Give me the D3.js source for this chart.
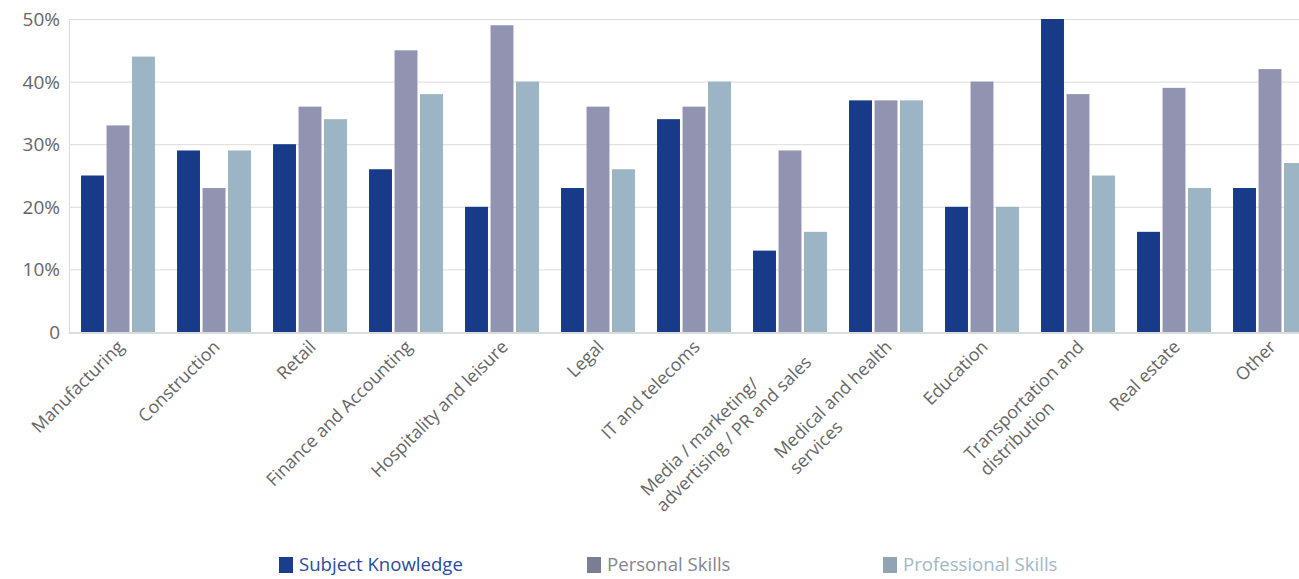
<!DOCTYPE html>
<html><head><meta charset="utf-8">
<script src="https://cdn.jsdelivr.net/npm/d3@7"></script>
<style>
html,body{margin:0;padding:0;background:#fff;overflow:hidden;}
svg{display:block;font-family:"Open Sans","Noto Sans",sans-serif;}
</style></head><body>
<svg id="chart" width="1299" height="579"></svg>
<script>
const categories = [
  ["Manufacturing"],
  ["Construction"],
  ["Retail"],
  ["Finance and Accounting"],
  ["Hospitality and leisure"],
  ["Legal"],
  ["IT and telecoms"],
  ["Media / marketing/", "advertising / PR and sales"],
  ["Medical and health", "services"],
  ["Education"],
  ["Transportation and", "distribution"],
  ["Real estate"],
  ["Other"]
];
const seriesNames = ["Subject Knowledge", "Personal Skills", "Professional Skills"];
const subjectKnowledge  = [25, 29, 30, 26, 20, 23, 34, 13, 37, 20, 50, 16, 23];
const personalSkills    = [33, 23, 36, 45, 49, 36, 36, 29, 37, 40, 38, 39, 42];
const professionalSkills= [44, 29, 34, 38, 40, 26, 40, 16, 37, 20, 25, 23, 27];
const yTicks = [0, 10, 20, 30, 40, 50];
const yTickLabels = ["0", "10%", "20%", "30%", "40%", "50%"];

const barColors = ["#173b88", "#9094b0", "#9bb5c4"];
const swatchColors = ["#1a3d8c", "#7b7d92", "#8fa5b1"];
const legendText = ["#2b4b9b", "#85858f", "#a3b7c3"];

const series = [subjectKnowledge, personalSkills, professionalSkills];
const svg = d3.select("#chart");

const mLeft = 69, mTop = 19, mBottom = 332;
const step = 96;
const x = d3.scaleBand().domain(d3.range(categories.length))
  .range([mLeft + 1, mLeft + 1 + step * categories.length]).paddingInner(0.23).paddingOuter(0.115);
const xs = d3.scaleBand().domain(d3.range(3)).range([0, x.bandwidth()]).paddingInner(0.1);
const y = d3.scaleLinear().domain([0, 50]).range([mBottom, mTop]);

// gridlines
svg.append("g").selectAll("line").data(yTicks.slice(1)).join("line")
  .attr("x1", mLeft).attr("x2", 1299)
  .attr("y1", d => y(d) + 0.5).attr("y2", d => y(d) + 0.5)
  .attr("stroke", "#dcdcdc").attr("stroke-width", 1);

// y tick labels
svg.append("g").selectAll("text").data(yTicks).join("text")
  .attr("x", 60).attr("y", d => y(d) + 7)
  .attr("text-anchor", "end").attr("font-size", 19).attr("fill", "#666")
  .text((d, i) => yTickLabels[i]);

// bars
const groups = svg.append("g").selectAll("g").data(categories).join("g")
  .attr("transform", (d, i) => `translate(${x(i)},0)`);
groups.selectAll("rect").data((d, i) => series.map((s, k) => ({k, v: s[i]}))).join("rect")
  .attr("x", d => xs(d.k)).attr("width", xs.bandwidth())
  .attr("y", d => y(d.v)).attr("height", d => y(0) - y(d.v))
  .attr("fill", d => barColors[d.k]);

// axis lines
svg.append("line").attr("x1", mLeft + 0.5).attr("x2", mLeft + 0.5).attr("y1", mTop).attr("y2", mBottom + 1)
  .attr("stroke", "#dcdcdc");
svg.append("line").attr("x1", mLeft).attr("x2", 1299).attr("y1", mBottom + 1).attr("y2", mBottom + 1)
  .attr("stroke", "#dcdcdc").attr("stroke-width", 2);

// category labels
const lab = svg.append("g").selectAll("g").data(categories).join("g")
  .attr("transform", (d, i) => `translate(${x(i) + x.bandwidth() / 2 + 7},${mBottom + 16}) rotate(-45)`);
lab.each(function(lines) {
  const g = d3.select(this);
  const t = g.append("text").attr("font-size", 17.8).attr("fill", "#666").attr("text-anchor", "start");
  lines.forEach((ln, j) => t.append("tspan").attr("x", 0).attr("dy", j === 0 ? 0 : 22).text(ln));
  let maxW = 0;
  t.selectAll("tspan").each(function() { maxW = Math.max(maxW, this.getComputedTextLength()); });
  t.selectAll("tspan").attr("x", -maxW);
});

// legend
const legX = [279, 587, 883];
const leg = svg.append("g").selectAll("g").data(seriesNames).join("g")
  .attr("transform", (d, i) => `translate(${legX[i]},557)`);
leg.append("rect").attr("width", 14).attr("height", 16).attr("fill", (d, i) => swatchColors[i]);
leg.append("text").attr("x", 20).attr("y", 14).attr("font-size", 18.6)
  .attr("fill", (d, i) => legendText[i]).text(d => d);
</script>
</body></html>
